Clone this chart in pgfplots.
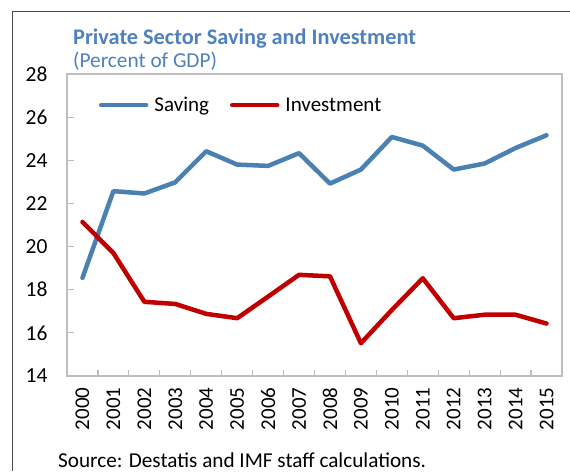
\documentclass[border=0pt]{standalone}
\usepackage{fontspec}
\setmainfont{Carlito}
\usepackage{pgfplots}
\pgfplotsset{compat=1.18}
\definecolor{savclr}{RGB}{74,128,178}
\definecolor{invclr}{RGB}{192,0,0}
\definecolor{ttlclr}{RGB}{79,129,189}
\definecolor{axclr}{RGB}{190,190,190}

\begin{document}
\begin{tikzpicture}
\useasboundingbox (0pt,0pt) rectangle (570pt,471pt);
% outer frame (left and top edges)
\draw[line width=1pt,black!70] (12pt,0pt) -- (12pt,459pt) -- (570pt,459pt);
% titles
\node[anchor=base west,inner sep=0pt,text=ttlclr,font=\fontsize{22.3}{26}\selectfont\bfseries]
  at (73pt,426pt) {Private Sector Saving and Investment};
\node[anchor=base west,inner sep=0pt,text=ttlclr,font=\fontsize{21.3}{24}\selectfont]
  at (73pt,403pt) {(Percent of GDP)};
\node[anchor=base west,inner sep=0pt,font=\fontsize{21.2}{24}\selectfont]
  at (58pt,4pt) {Source: Destatis and IMF staff calculations.};

\begin{axis}[
  at={(67pt,95pt)}, anchor=south west,
  scale only axis, width=495pt, height=302pt,
  xmin=-0.5, xmax=15.5, ymin=14, ymax=28,
  ytick={14,16,...,28},
  xtick={0,...,15},
  xticklabels={2000,2001,2002,2003,2004,2005,2006,2007,2008,2009,2010,2011,2012,2013,2014,2015},
  minor xtick={0.5,1.5,...,14.5},
  /pgf/number format/assume math mode=true,
  x tick label style={yshift=-8pt,rotate=90,anchor=east,font=\fontsize{21}{24}\selectfont},
  y tick label style={font=\fontsize{21.5}{24}\selectfont,xshift=-16pt},
  xtick pos=bottom, ytick pos=left,
  tick align=inside,
  major x tick style={draw=none},
  major tick length=7pt, minor tick length=6pt,
  every tick/.style={axclr,line width=1.2pt},
  axis line style={axclr,line width=1.5pt},
  legend style={at={(0.058,0.897)},anchor=west,draw=none,fill=none,
                font=\fontsize{21}{24}\selectfont,
                /tikz/every odd column/.append style={column sep=4pt},
                /tikz/every even column/.append style={column sep=19pt}},
  legend columns=2,
  legend image code/.code={\draw[#1] (2pt,0pt) -- (47pt,0pt);},
]
\addplot[savclr,line width=4.5pt,line join=round,line cap=round] coordinates {
  (0,18.55) (1,22.57) (2,22.46) (3,22.98) (4,24.42) (5,23.80) (6,23.74) (7,24.33)
  (8,22.92) (9,23.57) (10,25.08) (11,24.68) (12,23.57) (13,23.85) (14,24.57) (15,25.16)};
\addlegendentry{Saving}
\addplot[invclr,line width=4.5pt,line join=round,line cap=round] coordinates {
  (0,21.14) (1,19.70) (2,17.44) (3,17.34) (4,16.88) (5,16.68) (6,17.68) (7,18.69)
  (8,18.62) (9,15.52) (10,17.06) (11,18.53) (12,16.68) (13,16.84) (14,16.84) (15,16.43)};
\addlegendentry{Investment}
\end{axis}
\end{tikzpicture}
\end{document}
